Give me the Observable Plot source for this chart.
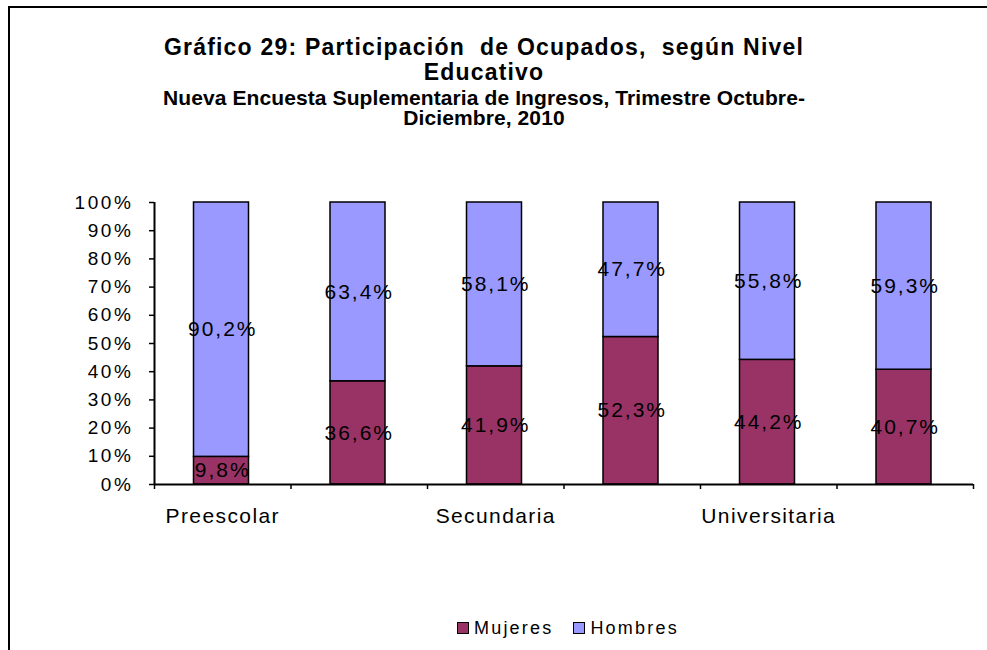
<!DOCTYPE html>
<html>
<head>
<meta charset="utf-8">
<script src="https://cdn.jsdelivr.net/npm/d3@7"></script>
<script src="https://cdn.jsdelivr.net/npm/@observablehq/plot@0.6"></script>
<style>
html, body { margin: 0; padding: 0; background: #fff; overflow: hidden; width: 987px; height: 650px; }
body { position: relative; font-family: "Liberation Sans", Arial, sans-serif; color: #000; }
#frame { position: absolute; left: 8px; top: 6px; width: 1100px; height: 800px; border: 2px solid #000; box-sizing: border-box; }
.t { position: absolute; left: 0; width: 968px; text-align: center; white-space: pre; font-weight: bold; }
#title { top: 35px; font-size: 23px; line-height: 25px; letter-spacing: 1.2px; }
#subtitle { top: 88px; font-size: 21px; line-height: 20px; letter-spacing: 0.1px; }
#chart { position: absolute; left: 0; top: 180px; }
#legend { position: absolute; left: 457px; top: 617px; display: flex; align-items: center; font-size: 18px; letter-spacing: 2.2px; line-height: 22px; }
.item { display: flex; align-items: center; margin-right: 20px; }
.sw { width: 10px; height: 10px; border: 1px solid #000; margin-right: 5px; }
g[aria-label="y-axis tick label"] text { letter-spacing: 2.6px; }
g[aria-label="x-axis tick label"] text { letter-spacing: 1.4px; }
g[aria-label="text"] text { letter-spacing: 2px; }
</style>
</head>
<body>
<div id="frame"></div>
<div id="title" class="t">Gráfico 29: Participación  de Ocupados,  según Nivel
Educativo</div>
<div id="subtitle" class="t">Nueva Encuesta Suplementaria de Ingresos, Trimestre Octubre-
Diciembre, 2010</div>
<div id="chart"></div>
<div id="legend"></div>
<script>
// ---- Data ----
const categories = ["Preescolar", "Primaria", "Secundaria", "Técnica", "Universitaria", "Postgrado"];
const shownCategoryIndex = [0, 2, 4];
const mujeres = [9.8, 36.6, 41.9, 52.3, 44.2, 40.7];
const hombres = [90.2, 63.4, 58.1, 47.7, 55.8, 59.3];
const yTicks = [0, 10, 20, 30, 40, 50, 60, 70, 80, 90, 100];
const seriesNames = ["Mujeres", "Hombres"];
const seriesColors = ["#993366", "#9999FF"];

const rows = categories.flatMap((c, i) => [
  { cat: c, i, serie: "Mujeres", v: mujeres[i], y1: 0, y2: mujeres[i] },
  { cat: c, i, serie: "Hombres", v: hombres[i], y1: mujeres[i], y2: mujeres[i] + hombres[i] }
]);
const fmt = v => d3.format(".1f")(v).replace(".", ",") + "%";

const chart = Plot.plot({
  width: 987,
  height: 380,
  marginTop: 22,
  marginBottom: 76,
  marginLeft: 154,
  marginRight: 14,
  style: { fontFamily: "'Liberation Sans', Arial, sans-serif", background: "transparent", overflow: "visible", color: "#000" },
  x: { type: "linear", domain: [0, categories.length], axis: null },
  y: { domain: [0, 100], axis: null },
  color: { domain: seriesNames, range: seriesColors },
  marks: [
    Plot.rectY(rows, {
      x1: d => d.i, x2: d => d.i + 1, y1: "y1", y2: "y2",
      fill: "serie", stroke: "#000", strokeWidth: 1.5,
      insetLeft: 39.5, insetRight: 42
    }),
    Plot.text(rows, {
      x: d => d.i + 0.5, y: d => (d.y1 + d.y2) / 2, text: d => fmt(d.v),
      fontSize: 21, fill: "#000"
    }),
    Plot.ruleX([0], { stroke: "#000", strokeWidth: 2 }),
    Plot.ruleY([0], { stroke: "#000", strokeWidth: 2 }),
    Plot.axisY({ ticks: yTicks, tickFormat: d => d + "%", tickSize: 5, tickPadding: 16, fontSize: 19, strokeWidth: 1.5 }),
    Plot.axisX({ ticks: d3.range(0, categories.length + 1), tickSize: 5, tickFormat: () => "", strokeWidth: 1.5 }),
    Plot.axisX({
      ticks: shownCategoryIndex.map(i => i + 0.5), tickSize: 0, tickPadding: 24,
      tickFormat: d => categories[Math.floor(d)], fontSize: 21
    })
  ]
});
document.getElementById("chart").appendChild(chart);

const legend = document.getElementById("legend");
seriesNames.forEach((n, k) => {
  const it = document.createElement("div");
  it.className = "item";
  const sw = document.createElement("div");
  sw.className = "sw";
  sw.style.background = seriesColors[k];
  const tx = document.createElement("span");
  tx.textContent = n;
  it.appendChild(sw); it.appendChild(tx);
  legend.appendChild(it);
});
</script>
</body>
</html>
